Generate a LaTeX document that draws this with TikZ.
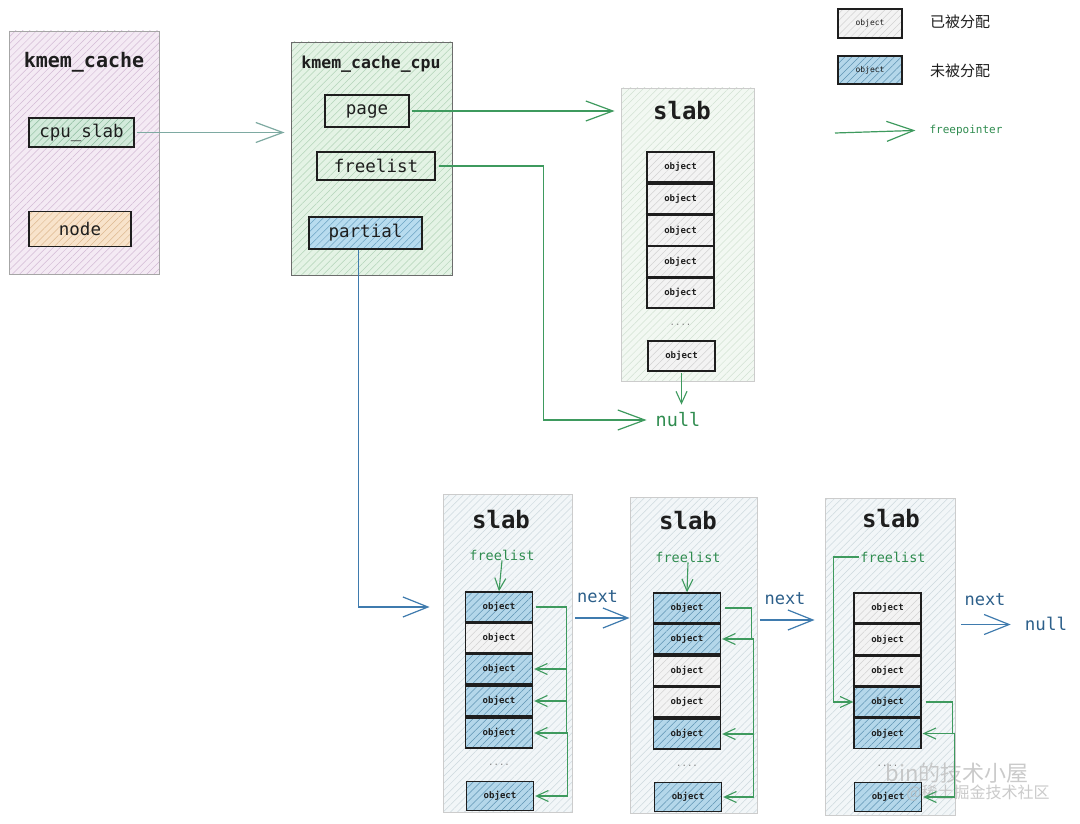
\documentclass[tikz,border=0pt]{standalone}
\usepackage{fontspec}
\setmonofont{DejaVu Sans Mono}
\newfontfamily\cjk{Noto Sans CJK SC}
\usetikzlibrary{arrows.meta,patterns.meta}
\newcommand\myfs[1]{\fontsize{#1}{#1}\selectfont}
\definecolor{ink}{HTML}{1E1E1E}
\definecolor{kcF}{HTML}{F4EAF4}
\definecolor{kcH}{HTML}{D2BAD5}
\definecolor{kgF}{HTML}{E4F3E5}
\definecolor{kgH}{HTML}{B2D4B8}
\definecolor{csF}{HTML}{D3EADB}
\definecolor{csH}{HTML}{8DBB9E}
\definecolor{ndF}{HTML}{F8E3CB}
\definecolor{ndH}{HTML}{DDB890}
\definecolor{ptF}{HTML}{B8DCEF}
\definecolor{ptH}{HTML}{6CA3C2}
\definecolor{tsF}{HTML}{F2F8F2}
\definecolor{tsH}{HTML}{D2E2D3}
\definecolor{bsF}{HTML}{F2F6F8}
\definecolor{bsH}{HTML}{CDD8DE}
\definecolor{owF}{HTML}{F3F3F3}
\definecolor{owH}{HTML}{D2D2D2}
\definecolor{obF}{HTML}{B4D7EA}
\definecolor{obH}{HTML}{5E93B3}
\definecolor{grn}{HTML}{3E9A5E}
\definecolor{grnT}{HTML}{2F8C4F}
\definecolor{blu}{HTML}{3F7BAE}
\definecolor{bluT}{HTML}{2C5F8A}
\definecolor{teal}{HTML}{7EAAA2}
\tikzset{
  hatch/.style 2 args={preaction={fill=#1}, pattern={Lines[angle=45,distance=5pt,line width=0.5pt]}, pattern color=#2},
  cont/.style={rectangle, inner sep=0pt, line width=0.9pt},
  fld/.style={rectangle, draw=ink, line width=1.3pt, inner sep=0pt, text=ink, font=\ttfamily\myfs{17.5}},
  objbase/.style={rectangle, draw=ink, line width=1.3pt, minimum width=67pt, minimum height=30pt, inner sep=0pt, text=ink, font=\ttfamily\bfseries\myfs{9}},
  obj/.style={objbase, hatch={owF}{owH}},
  objf/.style={objbase, hatch={obF}{obH}},
  ttl/.style={font=\ttfamily\bfseries\myfs{#1}, text=ink, inner sep=0pt},
  dots/.style={font=\ttfamily\myfs{9}, text=gray, inner sep=0pt},
  gtxt/.style={font=\ttfamily\myfs{#1}, text=grnT, inner sep=0pt},
  btxt/.style={font=\ttfamily\myfs{#1}, text=bluT, inner sep=0pt},
  bigG/.style={draw=grn, line width=1.2pt, -{Straight Barb[length=27pt,width=20pt]}},
  bigB/.style={draw=blu, line width=1.2pt, -{Straight Barb[length=25pt,width=20pt]}},
  fp/.style={draw=grn, line width=1.1pt, -{Straight Barb[length=12pt,width=11pt]}},
  wm/.style={text=gray!55, opacity=0.75, inner sep=0pt}
}
\begin{document}
\begin{tikzpicture}[x=1pt,y=-1pt]
\useasboundingbox (0,0) rectangle (1080,824);
\fill[white] (0,0) rectangle (1080,824);

% ---------- kmem_cache ----------
\node[cont, draw=gray!70, minimum width=150pt, minimum height=243pt, hatch={kcF}{kcH}] (kc) at (84,152.5) {};
\node[ttl=20] (kct) at (84,62) {kmem\_cache};
\node[fld, minimum width=105pt, minimum height=29pt, hatch={csF}{csH}] (cpuslab) at (81.5,132.5) {cpu\_slab};
\node[fld, minimum width=102pt, minimum height=35pt, hatch={ndF}{ndH}] (nodebox) at (80,229) {node};

% ---------- kmem_cache_cpu ----------
\node[cont, draw=gray!85!black, minimum width=161pt, minimum height=233pt, hatch={kgF}{kgH}] (kcc) at (371.5,158.5) {};
\node[ttl=16.5] (kcct) at (371,64) {kmem\_cache\_cpu};
\node[fld, minimum width=84pt, minimum height=32pt] (page) at (367,111) {page};
\node[fld, minimum width=118pt, minimum height=28pt] (freelist) at (376,166) {freelist};
\node[fld, minimum width=113pt, minimum height=32pt, hatch={ptF}{ptH}] (partial) at (365.5,233) {partial};

% ---------- top slab ----------
\node[cont, draw=gray!40, minimum width=133pt, minimum height=293pt, hatch={tsF}{tsH}] (slabT) at (687.5,234.5) {};
\node[ttl=24] (slabTt) at (682,111) {slab};
\node[obj] (t1) at (680.5,167) {object};
\node[obj] (t2) at (680.5,199) {object};
\node[obj] (t3) at (680.5,230.5) {object};
\node[obj] (t4) at (680.5,261.5) {object};
\node[obj] (t5) at (680.5,293) {object};
\node[dots] (t6) at (680.5,325) {....};
\node[obj] (t7) at (681.5,356) {object};
\node[gtxt=18.5] (null1) at (678,420) {null};

% ---------- bottom slab 1 ----------
\node[cont, draw=gray!40, minimum width=129pt, minimum height=318pt, hatch={bsF}{bsH}] (s1) at (507.5,653) {};
\node[ttl=24] (s1t) at (501,520) {slab};
\node[gtxt=13.5] (fl1) at (502,555) {freelist};
\node[objf] (s1o1) at (499,607) {object};
\node[obj]  (s1o2) at (499,638) {object};
\node[objf] (s1o3) at (499,669) {object};
\node[objf] (s1o4) at (499,701) {object};
\node[objf] (s1o5) at (499,733) {object};
\node[dots] (s1o6) at (499,765) {....};
\node[objf, minimum height=29pt] (s1o7) at (500,796) {object};

% ---------- bottom slab 2 ----------
\node[cont, draw=gray!40, minimum width=127pt, minimum height=316pt, hatch={bsF}{bsH}] (s2) at (693.5,655) {};
\node[ttl=24] (s2t) at (688,521) {slab};
\node[gtxt=13.5] (fl2) at (688,557) {freelist};
\node[objf] (s2o1) at (687,608) {object};
\node[objf] (s2o2) at (687,639) {object};
\node[obj]  (s2o3) at (687,671) {object};
\node[obj]  (s2o4) at (687,702) {object};
\node[objf] (s2o5) at (687,734) {object};
\node[dots] (s2o6) at (687,766) {....};
\node[objf, minimum height=29pt] (s2o7) at (688,797) {object};

% ---------- bottom slab 3 ----------
\node[cont, draw=gray!40, minimum width=130pt, minimum height=317pt, hatch={bsF}{bsH}] (s3) at (890,656.5) {};
\node[ttl=24] (s3t) at (891,519) {slab};
\node[gtxt=13.5] (fl3) at (893,557) {freelist};
\node[obj]  (s3o1) at (887.5,608) {object};
\node[obj]  (s3o2) at (887.5,639.5) {object};
\node[obj]  (s3o3) at (887.5,671) {object};
\node[objf] (s3o4) at (887.5,702) {object};
\node[objf] (s3o5) at (887.5,733.5) {object};
\node[dots] (s3o6) at (887.5,766) {....};
\node[objf, minimum height=29pt] (s3o7) at (888,797) {object};

% ---------- next labels / null ----------
\node[btxt=17] (nx1) at (597.5,597) {next};
\node[btxt=17] (nx2) at (785,599) {next};
\node[btxt=17] (nx3) at (985,600) {next};
\node[btxt=17.5] (null2) at (1046,624) {null};

% ---------- legend ----------
\node[obj, minimum width=64pt, minimum height=29pt, font=\ttfamily\myfs{8}] (lg1) at (870,23.5) {object};
\node[font=\cjk\myfs{15}, text=ink, inner sep=0pt] (lg1t) at (960,22) {已被分配};
\node[objf, minimum width=64pt, minimum height=28pt, font=\ttfamily\myfs{8}] (lg2) at (870,70) {object};
\node[font=\cjk\myfs{15}, text=ink, inner sep=0pt] (lg2t) at (960,71) {未被分配};
\node[gtxt=11] (lg3t) at (966,130) {freepointer};
\coordinate (lg3s) at (835,133);

% ---------- watermark ----------
\node[wm, font=\cjk\myfs{22}] (wm1) at (957,773) {bin的技术小屋};
\node[wm, font=\cjk\myfs{16}] (wm2) at (978,793) {@稀土掘金技术社区};

% ---------- connectors ----------
\draw[draw=teal, line width=1.2pt, -{Straight Barb[length=27pt,width=20pt]}, shorten <=2pt, shorten >=6pt]
  (cpuslab.east) -- (cpuslab.east -| kcc.west);
\draw[bigG, shorten <=2pt, shorten >=6pt] (page.east) -- (page.east -| slabT.west);
\draw[bigG, shorten <=3pt, shorten >=9pt] (freelist.east) -- ++(108,0) |- (null1.west);
\draw[fp, shorten <=1pt, shorten >=8pt] (t7.south) -- (t7.south |- null1.north);
\draw[bigB, shorten >=13pt] ([xshift=-7pt]partial.south) |- (s1.west |- s1o1.west);

\coordinate (n1) at ([shift={(3pt,35pt)}]s1.east);
\coordinate (n2) at ([shift={(3pt,35pt)}]s2.east);
\coordinate (n3) at ([shift={(6pt,32pt)}]s3.east);
\draw[bigB] (n1) -- (n1 -| s2.west);
\draw[bigB, shorten >=10pt] (n2) -- (n2 -| s3.west);
\draw[bigB, shorten >=14pt] (n3) -- (n3 -| null2.west);

% freelists in slabs
\draw[fp] (fl1.south) -- (s1o1.north);
\draw[fp] (fl2.south) -- (s2o1.north);
\draw[fp, shorten <=1pt] (fl3.west) -- ++(-27,0) |- (s3o4.west);

% slab 1 free pointers
\draw[fp, shorten <=3pt, shorten >=1pt] (s1o1.east) -- ++(33,0) |- (s1o3.east);
\draw[fp, shorten <=6pt, shorten >=1pt] (s1o3.east) -- ++(33,0) |- (s1o4.east);
\draw[fp, shorten <=6pt, shorten >=1pt] (s1o4.east) -- ++(33,0) |- (s1o5.east);
\draw[fp, shorten <=6pt, shorten >=1pt] (s1o5.east) -- ++(34,0) |- (s1o7.east);
% slab 2 free pointers
\draw[fp, shorten <=4pt, shorten >=1pt] (s2o1.east) -- ++(30,0) |- (s2o2.east);
\draw[fp, shorten <=4pt, shorten >=1pt] (s2o2.east) -- ++(32,0) |- (s2o5.east);
\draw[fp, shorten <=4pt, shorten >=1pt] (s2o5.east) -- ++(32,0) |- (s2o7.east);
% slab 3 free pointers
\draw[fp, shorten <=4pt, shorten >=1pt] (s3o4.east) -- ++(31,0) |- (s3o5.east);
\draw[fp, shorten <=4pt, shorten >=1pt] (s3o5.east) -- ++(33,0) |- (s3o7.east);

% legend arrow
\draw[bigG, shorten >=14pt] (lg3s) -- (lg3t.west);
\end{tikzpicture}
\end{document}
